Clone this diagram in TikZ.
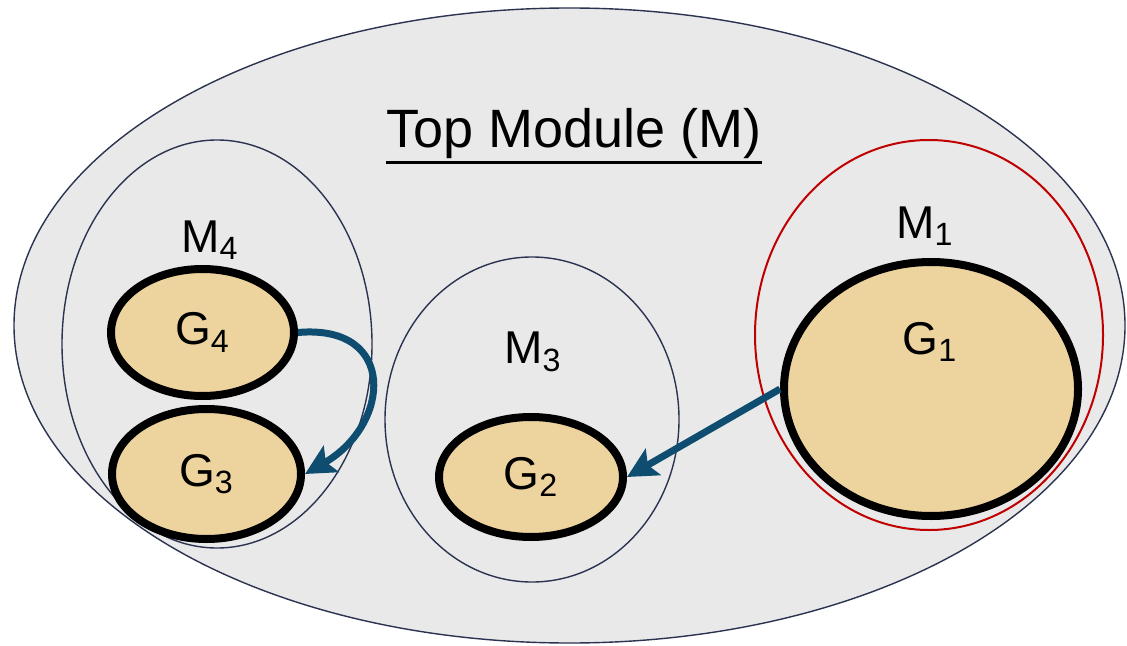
\documentclass[tikz,border=0pt]{standalone}
\usepackage{fontspec}
\setmainfont{Liberation Sans}
\usetikzlibrary{arrows.meta,shapes.geometric}
\definecolor{navy}{HTML}{2B3350}
\definecolor{tan}{HTML}{EDD39E}
\definecolor{arr}{HTML}{0E4C70}
\definecolor{redl}{HTML}{C00000}
\definecolor{speck}{HTML}{E9E9E9}
\begin{document}
\begin{tikzpicture}[x=0.5pt,y=-0.5pt,
  font=\fontsize{23}{27}\selectfont,
  m/.style={draw=navy,line width=0.7pt,ellipse,inner sep=0pt},
  g/.style={draw=black,line width=4pt,ellipse,fill=tan,inner sep=0pt},
  a/.style={draw=arr,line width=3.5pt,-{Stealth[length=15pt,width=15pt,inset=3pt]}}]
\useasboundingbox (0,0) rectangle (1127,646);
\node[m,fill=speck,minimum width=555.5pt,minimum height=317.5pt] (top) at (569.5,325.5) {};
\node[font=\fontsize{27}{31}\selectfont,inner sep=0pt] (title) at (574,134) {Top Module (M)};
\draw[line width=1.4pt] ([yshift=-1.5pt]title.south west) -- ([yshift=-1.5pt]title.south east);
% modules
\node[m,minimum width=155pt,minimum height=204pt] (m4) at (217,344) {};
\node[m,minimum width=147pt,minimum height=162.5pt] (m3) at (532,419.5) {};
\node[m,draw=redl,line width=1pt,minimum width=174pt,minimum height=195pt] (m1) at (929,335) {};
\node (m4t) at (210,240) {M\textsubscript{4}};
\node (m3t) at (533,352) {M\textsubscript{3}};
\node (m1t) at (925,226) {M\textsubscript{1}};
% gates
\node[g,minimum width=91.5pt,minimum height=63.5pt] (g4) at (202.5,332.5) {G\textsubscript{4}};
\node[g,minimum width=94.5pt,minimum height=65pt] (g3) at (206.5,474) {G\textsubscript{3}};
\node[g,minimum width=92pt,minimum height=60pt] (g2) at (531,477) {G\textsubscript{2}};
\node[g,minimum width=147pt,minimum height=127pt] (g1) at (931,389) {};
\node (g1t) at (930,342) {G\textsubscript{1}};
\draw[a] (g4.east) to[out=5,in=30,looseness=1.8] (g3.east);
\draw[a] (g1.west) -- (g2.east);
\end{tikzpicture}
\end{document}
